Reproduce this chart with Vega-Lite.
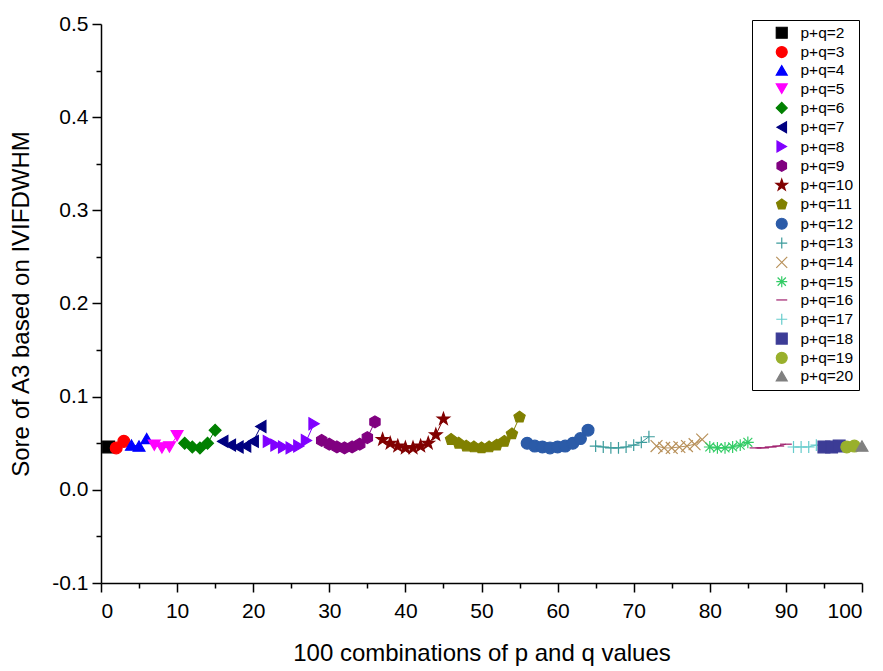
{
  "$schema": "https://vega.github.io/schema/vega-lite/v6.json",
  "width": 761,
  "height": 559,
  "autosize": {"type": "none"},
  "padding": {"left": 101, "top": 24, "right": 22, "bottom": 88},
  "background": "white",
  "config": {
    "view": {"stroke": null},
    "font": "Liberation Sans",
    "axis": {"grid": false, "domainColor": "black", "domainWidth": 1.5, "tickColor": "black", "tickWidth": 1.5, "labelColor": "black", "titleColor": "black", "labelFont": "Liberation Sans", "titleFont": "Liberation Sans", "titleFontWeight": "normal", "labelFontSize": 21, "titleFontSize": 24},
    "legend": {"orient": "none", "legendX": 651, "legendY": -4, "strokeColor": "black", "fillColor": "white", "padding": 5, "rowPadding": 1.3, "symbolOffset": 17, "labelOffset": 11, "symbolSize": 120, "symbolStrokeWidth": 1.2, "labelFont": "Liberation Sans", "labelFontSize": 15.5, "labelColor": "black", "title": null}
  },
  "datasets": {
    "legendShapes": []
  },
  "data": {"values": [
    {"x":1,"y":0.046,"s":"p+q=2"},
    {"x":2,"y":0.045,"s":"p+q=3"},{"x":3,"y":0.052,"s":"p+q=3"},
    {"x":4,"y":0.048,"s":"p+q=4"},{"x":5,"y":0.047,"s":"p+q=4"},{"x":6,"y":0.055,"s":"p+q=4"},
    {"x":7,"y":0.048,"s":"p+q=5"},{"x":8,"y":0.045,"s":"p+q=5"},{"x":9,"y":0.046,"s":"p+q=5"},{"x":10,"y":0.058,"s":"p+q=5"},
    {"x":11,"y":0.050,"s":"p+q=6"},{"x":12,"y":0.046,"s":"p+q=6"},{"x":13,"y":0.045,"s":"p+q=6"},{"x":14,"y":0.050,"s":"p+q=6"},{"x":15,"y":0.064,"s":"p+q=6"},
    {"x":16,"y":0.052,"s":"p+q=7"},{"x":17,"y":0.048,"s":"p+q=7"},{"x":18,"y":0.046,"s":"p+q=7"},{"x":19,"y":0.047,"s":"p+q=7"},{"x":20,"y":0.052,"s":"p+q=7"},{"x":21,"y":0.068,"s":"p+q=7"},
    {"x":22,"y":0.052,"s":"p+q=8"},{"x":23,"y":0.048,"s":"p+q=8"},{"x":24,"y":0.046,"s":"p+q=8"},{"x":25,"y":0.045,"s":"p+q=8"},{"x":26,"y":0.047,"s":"p+q=8"},{"x":27,"y":0.053,"s":"p+q=8"},{"x":28,"y":0.071,"s":"p+q=8"},
    {"x":29,"y":0.053,"s":"p+q=9"},{"x":30,"y":0.049,"s":"p+q=9"},{"x":31,"y":0.046,"s":"p+q=9"},{"x":32,"y":0.045,"s":"p+q=9"},{"x":33,"y":0.046,"s":"p+q=9"},{"x":34,"y":0.049,"s":"p+q=9"},{"x":35,"y":0.056,"s":"p+q=9"},{"x":36,"y":0.073,"s":"p+q=9"},
    {"x":37,"y":0.054,"s":"p+q=10"},{"x":38,"y":0.050,"s":"p+q=10"},{"x":39,"y":0.047,"s":"p+q=10"},{"x":40,"y":0.045,"s":"p+q=10"},{"x":41,"y":0.045,"s":"p+q=10"},{"x":42,"y":0.047,"s":"p+q=10"},{"x":43,"y":0.050,"s":"p+q=10"},{"x":44,"y":0.059,"s":"p+q=10"},{"x":45,"y":0.076,"s":"p+q=10"},
    {"x":46,"y":0.054,"s":"p+q=11"},{"x":47,"y":0.050,"s":"p+q=11"},{"x":48,"y":0.047,"s":"p+q=11"},{"x":49,"y":0.046,"s":"p+q=11"},{"x":50,"y":0.045,"s":"p+q=11"},{"x":51,"y":0.046,"s":"p+q=11"},{"x":52,"y":0.048,"s":"p+q=11"},{"x":53,"y":0.052,"s":"p+q=11"},{"x":54,"y":0.060,"s":"p+q=11"},{"x":55,"y":0.078,"s":"p+q=11"},
    {"x":56,"y":0.050,"s":"p+q=12"},{"x":57,"y":0.047,"s":"p+q=12"},{"x":58,"y":0.046,"s":"p+q=12"},{"x":59,"y":0.045,"s":"p+q=12"},{"x":60,"y":0.046,"s":"p+q=12"},{"x":61,"y":0.047,"s":"p+q=12"},{"x":62,"y":0.050,"s":"p+q=12"},{"x":63,"y":0.055,"s":"p+q=12"},{"x":64,"y":0.064,"s":"p+q=12"},
    {"x":65,"y":0.047,"s":"p+q=13"},{"x":66,"y":0.046,"s":"p+q=13"},{"x":67,"y":0.045,"s":"p+q=13"},{"x":68,"y":0.045,"s":"p+q=13"},{"x":69,"y":0.046,"s":"p+q=13"},{"x":70,"y":0.048,"s":"p+q=13"},{"x":71,"y":0.051,"s":"p+q=13"},{"x":72,"y":0.057,"s":"p+q=13"},
    {"x":73,"y":0.047,"s":"p+q=14"},{"x":74,"y":0.045,"s":"p+q=14"},{"x":75,"y":0.045,"s":"p+q=14"},{"x":76,"y":0.046,"s":"p+q=14"},{"x":77,"y":0.047,"s":"p+q=14"},{"x":78,"y":0.049,"s":"p+q=14"},{"x":79,"y":0.054,"s":"p+q=14"},
    {"x":80,"y":0.046,"s":"p+q=15"},{"x":81,"y":0.045,"s":"p+q=15"},{"x":82,"y":0.045,"s":"p+q=15"},{"x":83,"y":0.046,"s":"p+q=15"},{"x":84,"y":0.048,"s":"p+q=15"},{"x":85,"y":0.051,"s":"p+q=15"},
    {"x":86,"y":0.045,"s":"p+q=16"},{"x":87,"y":0.045,"s":"p+q=16"},{"x":88,"y":0.046,"s":"p+q=16"},{"x":89,"y":0.047,"s":"p+q=16"},{"x":90,"y":0.049,"s":"p+q=16"},
    {"x":91,"y":0.046,"s":"p+q=17"},{"x":92,"y":0.046,"s":"p+q=17"},{"x":93,"y":0.046,"s":"p+q=17"},{"x":94,"y":0.048,"s":"p+q=17"},
    {"x":95,"y":0.046,"s":"p+q=18"},{"x":96,"y":0.046,"s":"p+q=18"},{"x":97,"y":0.047,"s":"p+q=18"},
    {"x":98,"y":0.046,"s":"p+q=19"},{"x":99,"y":0.047,"s":"p+q=19"},
    {"x":100,"y":0.047,"s":"p+q=20"}
  ]},
  "encoding": {
    "x": {"field": "x", "type": "quantitative", "scale": {"domain": [0, 100], "nice": false}, "title": "100 combinations of p and q values",
      "axis": {"values": [0,5,10,15,20,25,30,35,40,45,50,55,60,65,70,75,80,85,90,95,100], "labelExpr": "datum.value % 10 === 0 ? datum.label : ''", "tickSize": {"condition": {"test": "datum.value % 10 === 0", "value": 9}, "value": 5}, "labelPadding": 8, "titlePadding": 20}},
    "y": {"field": "y", "type": "quantitative", "scale": {"domain": [-0.1, 0.5], "nice": false, "zero": false}, "title": "Sore of A3 based on IVIFDWHM",
      "axis": {"values": [-0.1,-0.05,0,0.05,0.1,0.15,0.2,0.25,0.3,0.35,0.4,0.45,0.5], "labelExpr": "round(datum.value*100) % 10 === 0 ? replace(format(datum.value, '.1f'), '\u2212', '-') : ''", "tickSize": {"condition": {"test": "round(datum.value*100) % 10 === 0", "value": 9}, "value": 5}, "labelPadding": 4, "titlePadding": 18}}
  },
  "layer": [
    {
      "mark": {"type": "line", "strokeWidth": 1},
      "encoding": {
        "detail": {"field": "s"},
        "stroke": {"field": "s", "type": "nominal",
          "legend": {"encode": {"symbols": {"update": {"shape": {"signal": "['M-3.3,0L3.3,0M-1,-1L1,-1L1,1L-1,1Z','M-3.3,0L3.3,0M1,0A1,1,0,1,1,-1,0A1,1,0,1,1,1,0Z','M-3.3,0L3.3,0M0,-0.9L1.05,0.9L-1.05,0.9Z','M-3.3,0L3.3,0M0,0.9L1.05,-0.9L-1.05,-0.9Z','M-3.3,0L3.3,0M0,-1.05L1.05,0L0,1.05L-1.05,0Z','M-3.3,0L3.3,0M-0.9,0L0.9,-1.05L0.9,1.05Z','M-3.3,0L3.3,0M0.9,0L-0.9,-1.05L-0.9,1.05Z','M-3.3,0L3.3,0M0,-1L0.866,-0.5L0.866,0.5L0,1L-0.866,0.5L-0.866,-0.5Z','M-3.3,0L3.3,0M0,-1.1L0.26,-0.36L1.05,-0.34L0.42,0.14L0.65,0.89L0,0.44L-0.65,0.89L-0.42,0.14L-1.05,-0.34L-0.26,-0.36Z','M-3.3,0L3.3,0M0,-1L0.951,-0.309L0.588,0.809L-0.588,0.809L-0.951,-0.309Z','M-3.3,0L3.3,0M1,0A1,1,0,1,1,-1,0A1,1,0,1,1,1,0Z','M-3.3,0L3.3,0M0,-1L0,1','M-3.3,0L3.3,0M-1,-1L1,1M-1,1L1,-1','M-3.3,0L3.3,0M0,-1L0,1M-0.75,-0.75L0.75,0.75M-0.75,0.75L0.75,-0.75','M-3.3,0L3.3,0','M-3.3,0L3.3,0M0,-1L0,1','M-3.3,0L3.3,0M-1,-1L1,-1L1,1L-1,1Z','M-3.3,0L3.3,0M1,0A1,1,0,1,1,-1,0A1,1,0,1,1,1,0Z','M-3.3,0L3.3,0M0,-0.9L1.05,0.9L-1.05,0.9Z'][indexof(['p+q=2','p+q=3','p+q=4','p+q=5','p+q=6','p+q=7','p+q=8','p+q=9','p+q=10','p+q=11','p+q=12','p+q=13','p+q=14','p+q=15','p+q=16','p+q=17','p+q=18','p+q=19','p+q=20'], datum.value)]"}}}}}}
      }
    },
    {
      "mark": {"type": "point", "filled": true, "size": 140, "strokeWidth": 1.2, "opacity": 1},
      "encoding": {
        "fill": {"field": "s", "type": "nominal",
          "legend": {"encode": {"symbols": {"update": {"shape": {"signal": "['M-3.3,0L3.3,0M-1,-1L1,-1L1,1L-1,1Z','M-3.3,0L3.3,0M1,0A1,1,0,1,1,-1,0A1,1,0,1,1,1,0Z','M-3.3,0L3.3,0M0,-0.9L1.05,0.9L-1.05,0.9Z','M-3.3,0L3.3,0M0,0.9L1.05,-0.9L-1.05,-0.9Z','M-3.3,0L3.3,0M0,-1.05L1.05,0L0,1.05L-1.05,0Z','M-3.3,0L3.3,0M-0.9,0L0.9,-1.05L0.9,1.05Z','M-3.3,0L3.3,0M0.9,0L-0.9,-1.05L-0.9,1.05Z','M-3.3,0L3.3,0M0,-1L0.866,-0.5L0.866,0.5L0,1L-0.866,0.5L-0.866,-0.5Z','M-3.3,0L3.3,0M0,-1.1L0.26,-0.36L1.05,-0.34L0.42,0.14L0.65,0.89L0,0.44L-0.65,0.89L-0.42,0.14L-1.05,-0.34L-0.26,-0.36Z','M-3.3,0L3.3,0M0,-1L0.951,-0.309L0.588,0.809L-0.588,0.809L-0.951,-0.309Z','M-3.3,0L3.3,0M1,0A1,1,0,1,1,-1,0A1,1,0,1,1,1,0Z','M-3.3,0L3.3,0M0,-1L0,1','M-3.3,0L3.3,0M-1,-1L1,1M-1,1L1,-1','M-3.3,0L3.3,0M0,-1L0,1M-0.75,-0.75L0.75,0.75M-0.75,0.75L0.75,-0.75','M-3.3,0L3.3,0','M-3.3,0L3.3,0M0,-1L0,1','M-3.3,0L3.3,0M-1,-1L1,-1L1,1L-1,1Z','M-3.3,0L3.3,0M1,0A1,1,0,1,1,-1,0A1,1,0,1,1,1,0Z','M-3.3,0L3.3,0M0,-0.9L1.05,0.9L-1.05,0.9Z'][indexof(['p+q=2','p+q=3','p+q=4','p+q=5','p+q=6','p+q=7','p+q=8','p+q=9','p+q=10','p+q=11','p+q=12','p+q=13','p+q=14','p+q=15','p+q=16','p+q=17','p+q=18','p+q=19','p+q=20'], datum.value)]"}}}}},
          "scale": {"domain": ["p+q=2","p+q=3","p+q=4","p+q=5","p+q=6","p+q=7","p+q=8","p+q=9","p+q=10","p+q=11","p+q=12","p+q=13","p+q=14","p+q=15","p+q=16","p+q=17","p+q=18","p+q=19","p+q=20"],
            "range": ["#000000","#FF0000","#0000FF","#FF00FF","#008000","#000080","#8000FF","#800080","#800000","#808000","#2B5BA8","#3C9C9C","#B8915B","#33CC66","#A0206E","#66CCCC","#3C3C96","#99B02C","#808080"]}},
        "stroke": {"field": "s", "type": "nominal",
          "legend": {"encode": {"symbols": {"update": {"shape": {"signal": "['M-3.3,0L3.3,0M-1,-1L1,-1L1,1L-1,1Z','M-3.3,0L3.3,0M1,0A1,1,0,1,1,-1,0A1,1,0,1,1,1,0Z','M-3.3,0L3.3,0M0,-0.9L1.05,0.9L-1.05,0.9Z','M-3.3,0L3.3,0M0,0.9L1.05,-0.9L-1.05,-0.9Z','M-3.3,0L3.3,0M0,-1.05L1.05,0L0,1.05L-1.05,0Z','M-3.3,0L3.3,0M-0.9,0L0.9,-1.05L0.9,1.05Z','M-3.3,0L3.3,0M0.9,0L-0.9,-1.05L-0.9,1.05Z','M-3.3,0L3.3,0M0,-1L0.866,-0.5L0.866,0.5L0,1L-0.866,0.5L-0.866,-0.5Z','M-3.3,0L3.3,0M0,-1.1L0.26,-0.36L1.05,-0.34L0.42,0.14L0.65,0.89L0,0.44L-0.65,0.89L-0.42,0.14L-1.05,-0.34L-0.26,-0.36Z','M-3.3,0L3.3,0M0,-1L0.951,-0.309L0.588,0.809L-0.588,0.809L-0.951,-0.309Z','M-3.3,0L3.3,0M1,0A1,1,0,1,1,-1,0A1,1,0,1,1,1,0Z','M-3.3,0L3.3,0M0,-1L0,1','M-3.3,0L3.3,0M-1,-1L1,1M-1,1L1,-1','M-3.3,0L3.3,0M0,-1L0,1M-0.75,-0.75L0.75,0.75M-0.75,0.75L0.75,-0.75','M-3.3,0L3.3,0','M-3.3,0L3.3,0M0,-1L0,1','M-3.3,0L3.3,0M-1,-1L1,-1L1,1L-1,1Z','M-3.3,0L3.3,0M1,0A1,1,0,1,1,-1,0A1,1,0,1,1,1,0Z','M-3.3,0L3.3,0M0,-0.9L1.05,0.9L-1.05,0.9Z'][indexof(['p+q=2','p+q=3','p+q=4','p+q=5','p+q=6','p+q=7','p+q=8','p+q=9','p+q=10','p+q=11','p+q=12','p+q=13','p+q=14','p+q=15','p+q=16','p+q=17','p+q=18','p+q=19','p+q=20'], datum.value)]"}}}}},
          "scale": {"domain": ["p+q=2","p+q=3","p+q=4","p+q=5","p+q=6","p+q=7","p+q=8","p+q=9","p+q=10","p+q=11","p+q=12","p+q=13","p+q=14","p+q=15","p+q=16","p+q=17","p+q=18","p+q=19","p+q=20"],
            "range": ["#000000","#FF0000","#0000FF","#FF00FF","#008000","#000080","#8000FF","#800080","#800000","#808000","#2B5BA8","#3C9C9C","#B8915B","#33CC66","#A0206E","#66CCCC","#3C3C96","#99B02C","#808080"]}},
        "shape": {"field": "s", "type": "nominal",
          "legend": {"encode": {"symbols": {"update": {"shape": {"signal": "['M-3.3,0L3.3,0M-1,-1L1,-1L1,1L-1,1Z','M-3.3,0L3.3,0M1,0A1,1,0,1,1,-1,0A1,1,0,1,1,1,0Z','M-3.3,0L3.3,0M0,-0.9L1.05,0.9L-1.05,0.9Z','M-3.3,0L3.3,0M0,0.9L1.05,-0.9L-1.05,-0.9Z','M-3.3,0L3.3,0M0,-1.05L1.05,0L0,1.05L-1.05,0Z','M-3.3,0L3.3,0M-0.9,0L0.9,-1.05L0.9,1.05Z','M-3.3,0L3.3,0M0.9,0L-0.9,-1.05L-0.9,1.05Z','M-3.3,0L3.3,0M0,-1L0.866,-0.5L0.866,0.5L0,1L-0.866,0.5L-0.866,-0.5Z','M-3.3,0L3.3,0M0,-1.1L0.26,-0.36L1.05,-0.34L0.42,0.14L0.65,0.89L0,0.44L-0.65,0.89L-0.42,0.14L-1.05,-0.34L-0.26,-0.36Z','M-3.3,0L3.3,0M0,-1L0.951,-0.309L0.588,0.809L-0.588,0.809L-0.951,-0.309Z','M-3.3,0L3.3,0M1,0A1,1,0,1,1,-1,0A1,1,0,1,1,1,0Z','M-3.3,0L3.3,0M0,-1L0,1','M-3.3,0L3.3,0M-1,-1L1,1M-1,1L1,-1','M-3.3,0L3.3,0M0,-1L0,1M-0.75,-0.75L0.75,0.75M-0.75,0.75L0.75,-0.75','M-3.3,0L3.3,0','M-3.3,0L3.3,0M0,-1L0,1','M-3.3,0L3.3,0M-1,-1L1,-1L1,1L-1,1Z','M-3.3,0L3.3,0M1,0A1,1,0,1,1,-1,0A1,1,0,1,1,1,0Z','M-3.3,0L3.3,0M0,-0.9L1.05,0.9L-1.05,0.9Z'][indexof(['p+q=2','p+q=3','p+q=4','p+q=5','p+q=6','p+q=7','p+q=8','p+q=9','p+q=10','p+q=11','p+q=12','p+q=13','p+q=14','p+q=15','p+q=16','p+q=17','p+q=18','p+q=19','p+q=20'], datum.value)]"}}}}},
          "scale": {"domain": ["p+q=2","p+q=3","p+q=4","p+q=5","p+q=6","p+q=7","p+q=8","p+q=9","p+q=10","p+q=11","p+q=12","p+q=13","p+q=14","p+q=15","p+q=16","p+q=17","p+q=18","p+q=19","p+q=20"],
            "range": ["square","circle","triangle-up","triangle-down","diamond","triangle-left","triangle-right",
              "M0,-1L0.866,-0.5L0.866,0.5L0,1L-0.866,0.5L-0.866,-0.5Z",
              "M0,-1.1L0.26,-0.36L1.05,-0.34L0.42,0.14L0.65,0.89L0,0.44L-0.65,0.89L-0.42,0.14L-1.05,-0.34L-0.26,-0.36Z",
              "M0,-1L0.951,-0.309L0.588,0.809L-0.588,0.809L-0.951,-0.309Z",
              "circle",
              "M-1,0L1,0M0,-1L0,1",
              "M-1,-1L1,1M-1,1L1,-1",
              "M-1,0L1,0M0,-1L0,1M-0.75,-0.75L0.75,0.75M-0.75,0.75L0.75,-0.75",
              "stroke",
              "M-1,0L1,0M0,-1L0,1",
              "square","circle","triangle-up"]}}
      }
    }
  ]
}
